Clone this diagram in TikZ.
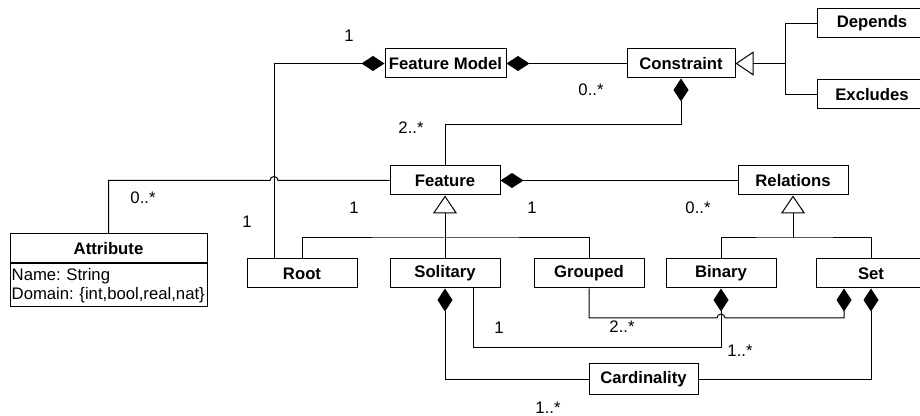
\documentclass[tikz,border=0pt]{standalone}
\usepackage{fontspec}
\setmainfont{Liberation Sans}
\usetikzlibrary{arrows.meta}

\begin{document}
\frenchspacing
\begin{tikzpicture}[x=0.5pt, y=-0.5pt, line width=0.5pt,
    font=\fontsize{8.35}{9.3}\selectfont,
    cls/.style={draw, fill=white, font=\fontsize{8.35}{9.3}\selectfont\bfseries,
        inner sep=0pt, minimum height=14.5pt, minimum width=55pt},
    comp/.style={-{Diamond[length=11.5pt, width=7.5pt]}},
    gen/.style={-{Triangle[open, length=9pt, width=12pt]}},
    mult/.style={inner sep=0pt}]

    % --- 定义参数 ---
    \def\hopR{4}       % 跨线小弧半径
    \def\busF{238}     % Feature 继承线的水平位置
    \def\busR{238}     % Relations 继承线的水平位置

    \useasboundingbox (0,0) rectangle (920,416);

    % --- 类 ---
    \node[cls, minimum width=60.5pt] (fm) at (445.5,63.5) {Feature Model};
    \node[cls, minimum width=54pt] (con) at (681,63.5) {Constraint};
    \node[cls] (dep) at (872,23.5) {Depends};
    \node[cls] (exc) at (872,94.5) {Excludes};
    \node[cls] (feat) at (445,180.5) {Feature};
    \node[cls] (rel) at (793,180.5) {Relations};
    \node[cls] (root) at (302,273.5) {Root};
    \node[cls] (sol) at (445,273.5) {Solitary};
    \node[cls] (grp) at (589,273.5) {Grouped};
    \node[cls] (bin) at (721,273.5) {Binary};
    \node[cls] (set) at (871,273.5) {Set};
    \node[cls, minimum width=54.5pt, minimum height=15pt] (card) at (643.5,379) {Cardinality};

    % Attribute 带属性栏
    \node[cls, minimum width=98.5pt] (attr) at (108.5,248.5) {Attribute};
    \node[draw, anchor=north, inner xsep=0.25pt, inner ysep=1pt, text width=98pt,
        minimum height=21.5pt, align=left] (attrb) at (attr.south)
        {\hspace{0.6pt}Name: String\\\hspace{0.6pt}Domain: \{int,bool,real,nat\}};

    % --- 辅助坐标 ---
    \coordinate (cj) at (785,63.5);
    \coordinate (fj) at (445,\busF);
    \coordinate (rj) at (793,\busR);
    \coordinate (rootl) at ([xshift=-14pt]root.north);
    \coordinate (solr) at ([xshift=14pt]sol.south);
    \coordinate (setl) at ([xshift=-13.5pt]set.south);

    % --- 组合关系 ---
    \draw[comp] (con.west) -- (fm.east);
    \draw[comp] (rootl) |- (fm.west);
    \draw[comp] (feat.north) -- (feat.north |- 0,125) -| (con.south);
    \draw[comp] (rel.west) -- (feat.east);
    \draw[comp] (solr) -- (solr |- 0,348) -| (bin.south);
    \draw[comp] (card.west) -| (sol.south);
    \draw[comp] (card.east) -| (set.south);

    % Grouped -> Set，在 Binary 竖线处跨线
    \draw[comp] (grp.south) |- (721-\hopR,318)
        arc[start angle=180, end angle=360, radius=\hopR] -| (setl);

    % Feature -> Attribute，在 Root 竖线处跨线
    \draw (feat.west) -- (274+\hopR,180.5)
        arc[start angle=0, end angle=-180, radius=\hopR] -| (attr.north);

    % --- 继承关系 ---
    \draw[gen] (cj) -- (con.east);
    \draw (dep.west) -| (cj) |- (exc.west);

    \draw[gen] (fj) -- (feat.south);
    \draw (root.north) |- (fj) -| (grp.north);
    \draw (sol.north) -- (fj);

    \draw[gen] (rj) -- (rel.south);
    \draw (bin.north) |- (rj) -| (set.north);

    % --- 多重性标签 ---
    \node[mult] (m1) at (349,36) {1};
    \node[mult] (m2) at (591,90) {0..*};
    \node[mult] (m3) at (411,128) {2..*};
    \node[mult] (m4) at (143,198) {0..*};
    \node[mult] (m5) at (247,222) {1};
    \node[mult] (m6) at (354,208) {1};
    \node[mult] (m7) at (532,208) {1};
    \node[mult] (m8) at (698,208) {0..*};
    \node[mult] (m9) at (499,328) {1};
    \node[mult] (m10) at (622,327) {2..*};
    \node[mult] (m11) at (740,351) {1..*};
    \node[mult] (m12) at (548,408) {1..*};

\end{tikzpicture}
\end{document}
